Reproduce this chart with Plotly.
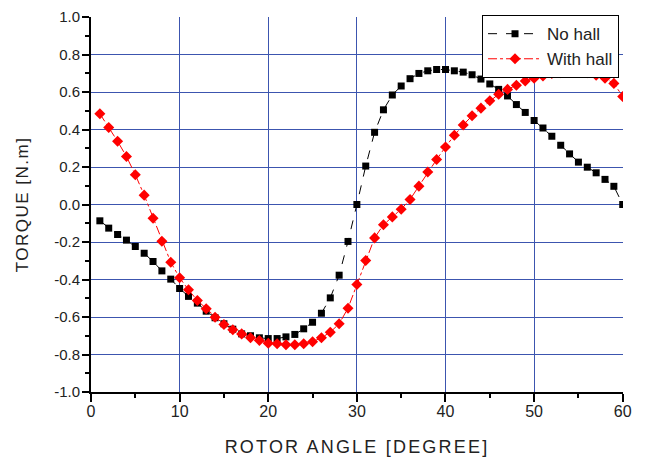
import plotly.graph_objects as go

angle = list(range(1, 61))

no_hall = [-0.087, -0.126, -0.160, -0.190, -0.224, -0.260, -0.304, -0.354, -0.398, -0.448,
           -0.490, -0.526, -0.569, -0.604, -0.636, -0.665, -0.690, -0.700, -0.711, -0.715,
           -0.715, -0.706, -0.693, -0.663, -0.628, -0.580, -0.498, -0.377, -0.197, 0.000,
           0.205, 0.385, 0.505, 0.584, 0.632, 0.671, 0.699, 0.713, 0.720, 0.720,
           0.713, 0.706, 0.692, 0.669, 0.643, 0.614, 0.579, 0.533, 0.491, 0.448,
           0.408, 0.364, 0.316, 0.270, 0.226, 0.199, 0.169, 0.134, 0.097, 0.000]

with_hall = [0.484, 0.411, 0.337, 0.256, 0.159, 0.050, -0.073, -0.196, -0.308, -0.391,
             -0.455, -0.512, -0.556, -0.601, -0.640, -0.668, -0.690, -0.711, -0.725, -0.740,
             -0.743, -0.748, -0.748, -0.743, -0.732, -0.711, -0.681, -0.636, -0.553, -0.427,
             -0.299, -0.178, -0.108, -0.066, -0.025, 0.027, 0.098, 0.173, 0.240, 0.307,
             0.369, 0.424, 0.473, 0.514, 0.553, 0.588, 0.614, 0.636, 0.659, 0.673,
             0.685, 0.699, 0.703, 0.706, 0.706, 0.703, 0.690, 0.673, 0.646, 0.576]

x_tickvals = [0, 10, 20, 30, 40, 50, 60]
x_ticktext = ["0", "10", "20", "30", "40", "50", "60"]
y_tickvals = [-1.0, -0.8, -0.6, -0.4, -0.2, 0.0, 0.2, 0.4, 0.6, 0.8, 1.0]
y_ticktext = ["-1.0", "-0.8", "-0.6", "-0.4", "-0.2", "0.0", "0.2", "0.4", "0.6", "0.8", "1.0"]

FONT = "Arial, 'Liberation Sans', sans-serif"
GRID = "rgb(60,85,175)"


def spaced(s, px):
    return f'<span style="letter-spacing:{px}px">{s}</span>'


fig = go.Figure()
fig.add_trace(go.Scatter(
    x=angle, y=no_hall, name="No hall", mode="lines+markers",
    line=dict(color="black", width=1, dash="dash"),
    marker=dict(symbol="square", size=7, color="black"),
))
fig.add_trace(go.Scatter(
    x=angle, y=with_hall, name="With hall", mode="lines+markers",
    line=dict(color="red", width=1, dash="dashdot"),
    marker=dict(symbol="diamond", size=8.5, color="red"),
))

fig.update_layout(
    width=645, height=457,
    margin=dict(l=91, r=22, t=17, b=65, autoexpand=False),
    paper_bgcolor="white", plot_bgcolor="white",
    font=dict(family=FONT, color="#222", size=15),
    showlegend=True,
    legend=dict(
        x=0.735, y=1.005, xanchor="left", yanchor="top",
        bgcolor="white", bordercolor="black", borderwidth=1,
        font=dict(size=17, color="#222"), itemwidth=54,
        tracegroupgap=0,
    ),
)
fig.update_xaxes(
    range=[0, 60.03], tickvals=x_tickvals, ticktext=x_ticktext,
    showgrid=True, gridcolor=GRID, gridwidth=1.3, zeroline=False,
    showline=True, linecolor="black", linewidth=2,
    ticks="outside", ticklen=8, tickwidth=1.5, tickcolor="black",
    minor=dict(dtick=5, tick0=0, ticks="outside", ticklen=4, tickcolor="black", showgrid=False),
    tickfont=dict(size=16), automargin=False, ticklabelstandoff=-4,
    title=dict(text=spaced("ROTOR ANGLE [DEGREE]", 2.2), font=dict(size=18), standoff=22),
)
fig.update_yaxes(
    range=[-1.0, 1.0], tickvals=y_tickvals, ticktext=y_ticktext,
    showgrid=True, gridcolor=GRID, gridwidth=1.3, zeroline=False,
    showline=True, linecolor="black", linewidth=2,
    ticks="outside", ticklen=7, tickwidth=1.5, tickcolor="black",
    minor=dict(dtick=0.1, tick0=0, ticks="outside", ticklen=4, tickcolor="black", showgrid=False),
    tickfont=dict(size=15), automargin=False, ticklabelstandoff=-1,
    title=dict(text=spaced("TORQUE [N.m]", 1.5), font=dict(size=17), standoff=21),
)

# remove the page's default 8px body margin so the figure sits at the window origin
fig.write_html("out.html", config={"displayModeBar": False},
               post_script="document.body.style.margin='0';")
